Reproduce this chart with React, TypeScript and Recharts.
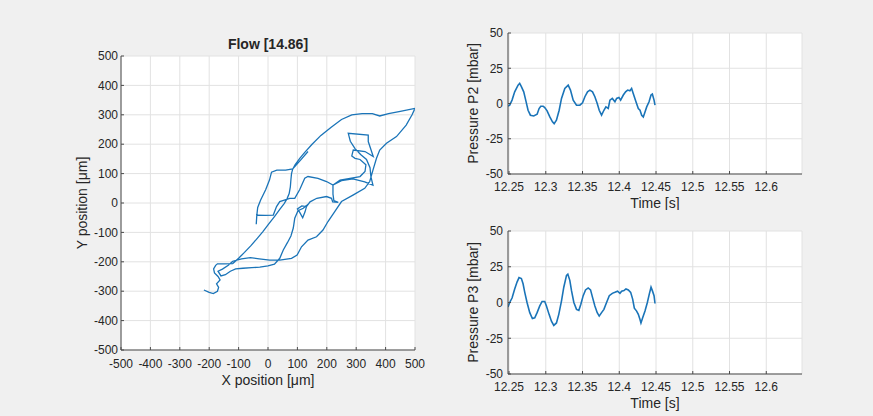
import React from 'react';
import { LineChart, Line, XAxis, YAxis, CartesianGrid } from 'recharts';

// ---------- data ----------
const POSITION_TICKS = [-500, -400, -300, -200, -100, 0, 100, 200, 300, 400, 500];

const TRAJ_X = [
  -218, -200, -186, -172, -168, -175, -163, -170, -182, -185, -178, -172, -150, -120,
  -100, -80, -58, -38, -18, 2, 22, 40, 55, 65, 72, 76, 78, 80, 84, 92,
  108, 125, 150, 180, 215, 250, 285, 320, 355, 380, 410, 450, 500,
  490, 470, 437, 403, 380, 369, 357, 346, 329, 289, 250, 227, 204, 187, 165, 136, 114, 99, 80, 40, 6, -30, -60, -90, -120,
  -135, -155, -170, -160, -145, -128, -110,
  -85, -55, -28, 0, 22, 40, 52, 66, 78, 86, 91, 102, 120,
  132, 126, 118, 108, 100, 115, 131,
  143, 166, 199, 216, 220, 239, 224, 221, 221,
  245, 279, 313, 330, 333, 313, 296, 285, 290, 330, 358, 341, 341, 273, 280, 296, 315, 335, 347, 350, 357, 329, 289, 250, 221,
  199, 170, 136, 125, 108, 91, 74, 40, 29, 18, -10, -38, -40, -38,
  -35, -25, -8, 5, 12, 30, 60, 84, 110, 136,
];
const TRAJ_Y = [
  -296, -304, -308, -300, -287, -275, -262, -250, -238, -224, -212, -207, -207, -206,
  -188, -168, -145, -122, -98, -72, -46, -22, -2, 15, 32, 55, 80, 100, 115, 130,
  152, 172, 200, 230, 258, 284, 300, 304, 304, 296, 304, 312, 322,
  300, 265, 226, 203, 180, 152, 112, 73, 50, 27, 5, -29, -63, -92, -115, -126, -149, -177, -188, -194, -194, -190, -186, -190, -198,
  -212, -225, -232, -248, -244, -232, -224,
  -222, -220, -218, -214, -208, -188, -160, -135, -112, -85, -52, -26, -18,
  -8, -30, -50, -32, -20, -10, -12,
  4, 16, 22, 16, 4, 2, 8, 30, 61,
  78, 84, 90, 107, 130, 148, 152, 160, 180, 175, 158, 209, 231, 237, 210, 185, 165, 148, 120, 90, 61, 72, 82, 76, 61,
  73, 84, 90, 84, 46, 16, 16, 5, -12, -41, -42, -41, -72, -41,
  -15, 10, 45, 78, 105, 112, 112, 116, 145, 175,
];

const TIME_TICKS = [12.25, 12.3, 12.35, 12.4, 12.45, 12.5, 12.55, 12.6];
const PRESSURE_TICKS = [-50, -25, 0, 25, 50];

const P2_TIME = [
  12.2486, 12.2509, 12.2541, 12.2577, 12.2623, 12.2645, 12.2668, 12.27, 12.2727, 12.2759,
  12.2791, 12.2836, 12.2882, 12.2909, 12.2932, 12.2964, 12.2986, 12.3018, 12.3055, 12.3091,
  12.3114, 12.3145, 12.3182, 12.3214, 12.3259, 12.3305, 12.3336, 12.3373, 12.3418, 12.3464,
  12.35, 12.3532, 12.3568, 12.36, 12.3636, 12.3668, 12.37, 12.3727, 12.3759, 12.3791,
  12.3818, 12.385, 12.3873, 12.3905, 12.3941, 12.3964, 12.3995, 12.4018, 12.4055, 12.4086,
  12.4114, 12.4145, 12.4168, 12.4191, 12.4227, 12.4259, 12.4282, 12.4305, 12.4327, 12.435,
  12.4373, 12.4405, 12.4432, 12.445, 12.4473, 12.4486,
];
const P2_VALUES = [
  -1.9, -1.2, 2.4, 8.3, 13, 14.3, 12, 8.3, 2.4, -4.8,
  -8.3, -8.8, -7.6, -3.6, -1.9, -1.9, -2.9, -5.2, -9.5, -13,
  -14.3, -11.9, -4.8, 3.6, 10.7, 13, 9.5, 2.4, -1.2, -1.2,
  0.5, 4.8, 8.3, 9.5, 8.3, 4.8, 0, -4.8, -8.3, -4.8,
  -2.4, -3.5, 2.4, 3.6, 1.2, 3.6, 4.3, 2.4, 6, 8.3,
  9.5, 9, 10.7, 7, 1.2, -3.6, -4.8, -8.3, -9.5, -6,
  -2.4, 1.2, 6, 6.7, 2.4, -1.2,
];

const P3_TIME = [
  12.2486, 12.2509, 12.2541, 12.2577, 12.2609, 12.2636, 12.2668, 12.2691, 12.2714, 12.2745,
  12.2782, 12.2818, 12.285, 12.2882, 12.2918, 12.295, 12.2986, 12.3009, 12.3045, 12.3077,
  12.3109, 12.3145, 12.3177, 12.3214, 12.3245, 12.3282, 12.33, 12.3327, 12.335, 12.3382,
  12.3418, 12.345, 12.3477, 12.3509, 12.3541, 12.3577, 12.3609, 12.3636, 12.3668, 12.37,
  12.3727, 12.3759, 12.3791, 12.3827, 12.3864, 12.3905, 12.3941, 12.3977, 12.4009, 12.4032,
  12.4064, 12.4091, 12.4123, 12.4155, 12.4182, 12.4205, 12.4236, 12.4259, 12.4282, 12.4295,
  12.4318, 12.435, 12.4382, 12.4409, 12.4432, 12.445, 12.4473, 12.4486,
];
const P3_VALUES = [
  -3.1, 0, 3.1, 9.5, 14.3, 17.4, 16.7, 13.1, 7.1, 0,
  -7.1, -11.2, -10.7, -7.1, -2.4, 0.7, 0.7, -2.4, -8.3, -13.1,
  -16, -14.3, -8.3, 1.2, 10.7, 19, 19.8, 15.5, 8.3, 0,
  -4.8, -5.5, -1.2, 4.8, 8.8, 10.2, 8.8, 3.6, -2.4, -7.1,
  -9.5, -7.1, -4.8, 0, 4.8, 6.4, 7.1, 7.9, 6.4, 7.9,
  8.3, 9.5, 8.8, 7.1, 2.4, -4, -6, -8.3, -11.9, -14.3,
  -10.7, -6, 0, 6, 10.7, 8.3, 4.8, -0.7,
];

const trajData = TRAJ_X.map((x, i) => ({ x, y: TRAJ_Y[i] }));
const p2Data = P2_TIME.map((t, i) => ({ t, p: P2_VALUES[i] }));
const p3Data = P3_TIME.map((t, i) => ({ t, p: P3_VALUES[i] }));

// ---------- styles ----------
const FONT = '"Liberation Sans", Arial, Helvetica, sans-serif';
const TEXT = '#262626';
const AXIS = '#4a4a4a';
const GRID = '#e2e2e2';
const BLUE = '#1a74b8';
const BG = '#f0f0f0';
const TICK_STYLE = { fill: TEXT, fontSize: 12, fontFamily: FONT };

const timeFmt = (v: number) => String(Number(v.toFixed(2)));

const textEl = (x: number, y: number, value: string, rotate = false, bold = false) => (
  <text
    key={value}
    x={x}
    y={y}
    textAnchor="middle"
    dominantBaseline="central"
    transform={rotate ? `rotate(-90 ${x} ${y})` : undefined}
    fill={TEXT}
    fontSize={14}
    fontWeight={bold ? 'bold' : 'normal'}
    fontFamily={FONT}
  >
    {value}
  </text>
);

const txt = (x: number, y: number, value: string, rotate = false) => () => textEl(x, y, value, rotate);

function PressureChart(props: {
  data: { t: number; p: number }[];
  top: number;
  height: number;
  marginTop: number;
  marginBottom: number;
  yLabel: string;
  yLabelY: number;
  xLabelY: number;
}) {
  const { data, top, height, marginTop, marginBottom, yLabel, yLabelY, xLabelY } = props;
  return (
    <div style={{ position: 'absolute', left: 440, top, width: 433, height }}>
      <LineChart
        width={433}
        height={height}
        data={data}
        margin={{ top: marginTop, right: 71, bottom: marginBottom, left: 28 }}
      >
        <CartesianGrid stroke={GRID} fill="#ffffff" />
        <XAxis
          type="number"
          dataKey="t"
          domain={[12.2486, 12.6486]}
          ticks={TIME_TICKS}
          allowDataOverflow
          tickFormatter={timeFmt}
          height={20}
          stroke={AXIS}
          tickSize={-3}
          tickMargin={11}
          tick={TICK_STYLE}
          interval={0}
          label={txt(215, xLabelY, 'Time [s]')}
        />
        <XAxis
          xAxisId="top"
          orientation="top"
          type="number"
          domain={[12.2486, 12.6486]}
          ticks={TIME_TICKS}
          allowDataOverflow
          height={0}
          stroke={AXIS}
          tickSize={-3}
          tick={false}
          interval={0}
        />
        <YAxis
          type="number"
          domain={[-50, 50]}
          ticks={PRESSURE_TICKS}
          allowDataOverflow
          width={40}
          stroke={AXIS}
          tickSize={-3}
          tickMargin={8}
          tick={TICK_STYLE}
          interval={0}
          label={txt(33, yLabelY, yLabel, true)}
        />
        <YAxis
          yAxisId="right"
          orientation="right"
          type="number"
          domain={[-50, 50]}
          ticks={PRESSURE_TICKS}
          allowDataOverflow
          width={0}
          stroke={AXIS}
          tickSize={-3}
          tick={false}
          interval={0}
        />
        <Line
          type="linear"
          dataKey="p"
          stroke={BLUE}
          strokeWidth={1.6}
          dot={false}
          isAnimationActive={false}
        />
      </LineChart>
    </div>
  );
}

export default function App() {
  return (
    <div
      style={{
        position: 'absolute',
        left: 0,
        top: 0,
        width: 873,
        height: 416,
        background: BG,
        overflow: 'hidden',
      }}
    >
      <div style={{ position: 'absolute', left: 0, top: 0, width: 440, height: 416 }}>
        <LineChart
          width={440}
          height={416}
          data={trajData}
          margin={{ top: 56, right: 25, bottom: 36, left: 66 }}
        >
          <CartesianGrid stroke={GRID} fill="#ffffff" />
          <XAxis
            type="number"
            dataKey="x"
            domain={[-500, 500]}
            ticks={POSITION_TICKS}
            allowDataOverflow
            height={30}
            stroke={AXIS}
            tickSize={-3}
            tickMargin={12}
            tick={TICK_STYLE}
            interval={0}
            label={txt(268, 380, 'X position [\u03BCm]')}
          />
          <XAxis
            xAxisId="top"
            orientation="top"
            type="number"
            domain={[-500, 500]}
            ticks={POSITION_TICKS}
            allowDataOverflow
            height={0}
            stroke={AXIS}
            tickSize={-3}
            tick={false}
            interval={0}
          />
          <YAxis
            type="number"
            domain={[-500, 500]}
            ticks={POSITION_TICKS}
            allowDataOverflow
            width={55}
            stroke={AXIS}
            tickSize={-3}
            tickMargin={6}
            tick={TICK_STYLE}
            interval={0}
            label={() => (
              <g>
                {textEl(82, 203, 'Y position [\u03BCm]', true)}
                {textEl(268, 44, 'Flow [14.86]', false, true)}
              </g>
            )}
          />
          <YAxis
            yAxisId="right"
            orientation="right"
            type="number"
            domain={[-500, 500]}
            ticks={POSITION_TICKS}
            allowDataOverflow
            width={0}
            stroke={AXIS}
            tickSize={-3}
            tick={false}
            interval={0}
          />
          <Line
            type="linear"
            dataKey="y"
            stroke={BLUE}
            strokeWidth={1.3}
            dot={false}
            isAnimationActive={false}
          />
        </LineChart>
      </div>
      <PressureChart
        data={p2Data}
        top={0}
        height={210}
        marginTop={33}
        marginBottom={16}
        yLabel="Pressure P2 [mbar]"
        yLabelY={103.5}
        xLabelY={203}
      />
      <PressureChart
        data={p3Data}
        top={210}
        height={206}
        marginTop={21}
        marginBottom={22}
        yLabel="Pressure P3 [mbar]"
        yLabelY={92.5}
        xLabelY={192.7}
      />
    </div>
  );
}
